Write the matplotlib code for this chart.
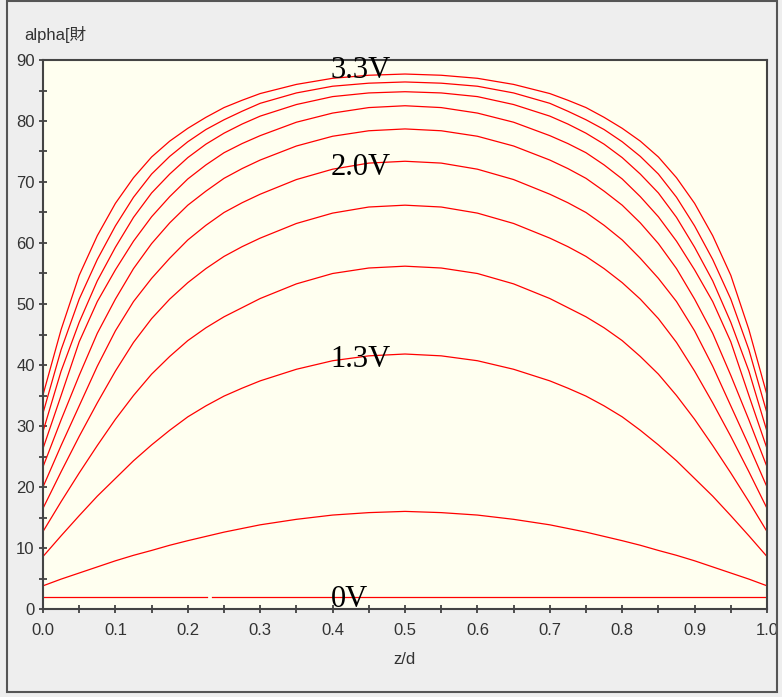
import numpy as np
import matplotlib
matplotlib.use("Agg")
import matplotlib.pyplot as plt
from matplotlib.patches import Rectangle

# ---- data ----
z = [0.0, 0.025, 0.05, 0.075, 0.1, 0.125, 0.15, 0.175, 0.2, 0.225, 0.25, 0.275, 0.3,
     0.35, 0.4, 0.45, 0.5,
     0.55, 0.6, 0.65, 0.7, 0.725, 0.75, 0.775, 0.8, 0.825, 0.85, 0.875, 0.9, 0.925,
     0.95, 0.975, 1.0]

c1 = [3.8, 4.9, 5.9, 6.9, 7.9, 8.8, 9.6, 10.45, 11.2, 11.9, 12.6, 13.2, 13.8, 14.7, 15.4, 15.8, 16.0,
      15.8, 15.4, 14.7, 13.8, 13.2, 12.6, 11.9, 11.2, 10.45, 9.6, 8.8, 7.9, 6.9, 5.9, 4.9, 3.8]
c2 = [8.6, 12.0, 15.3, 18.5, 21.4, 24.3, 26.9, 29.3, 31.5, 33.3, 34.9, 36.2, 37.4, 39.3, 40.7, 41.5, 41.8,
      41.5, 40.7, 39.3, 37.4, 36.2, 34.9, 33.3, 31.5, 29.3, 26.9, 24.3, 21.4, 18.5, 15.3, 12.0, 8.6]
c3 = [12.7, 17.6, 22.3, 26.8, 31.1, 35.0, 38.5, 41.4, 44.0, 46.1, 47.9, 49.4, 50.9, 53.3, 55.0, 55.9, 56.2,
      55.9, 55.0, 53.3, 50.9, 49.4, 47.9, 46.1, 44.0, 41.4, 38.5, 35.0, 31.1, 26.8, 22.3, 17.6, 12.7]
c4 = [16.5, 22.5, 28.3, 33.8, 39.0, 43.7, 47.6, 50.8, 53.5, 55.8, 57.8, 59.4, 60.8, 63.2, 64.9, 65.9, 66.2,
      65.9, 64.9, 63.2, 60.8, 59.4, 57.8, 55.8, 53.5, 50.8, 47.6, 43.7, 39.0, 33.8, 28.3, 22.5, 16.5]
c5 = [20.0, 26.8, 33.3, 39.8, 45.6, 50.4, 54.2, 57.5, 60.5, 62.9, 65.0, 66.6, 68.0, 70.4, 72.1, 73.1, 73.4,
      73.1, 72.1, 70.4, 68.0, 66.6, 65.0, 62.9, 60.5, 57.5, 54.2, 50.4, 45.6, 39.8, 33.3, 26.8, 20.0]
c6 = [23.3, 31.0, 38.3, 45.2, 50.8, 55.8, 59.9, 63.3, 66.2, 68.5, 70.6, 72.2, 73.6, 75.9, 77.5, 78.4, 78.7,
      78.4, 77.5, 75.9, 73.6, 72.2, 70.6, 68.5, 66.2, 63.3, 59.9, 55.8, 50.8, 45.2, 38.3, 31.0, 23.3]
c7 = [26.3, 35.0, 43.8, 50.4, 55.6, 60.3, 64.3, 67.6, 70.5, 72.8, 74.8, 76.3, 77.6, 79.8, 81.3, 82.2, 82.5,
      82.2, 81.3, 79.8, 77.6, 76.3, 74.8, 72.8, 70.5, 67.6, 64.3, 60.3, 55.6, 50.4, 43.8, 35.0, 26.3]
c8 = [29.1, 39.0, 47.0, 53.8, 59.3, 64.2, 68.2, 71.3, 74.0, 76.2, 78.0, 79.5, 80.8, 82.7, 84.0, 84.6, 84.8,
      84.6, 84.0, 82.7, 80.8, 79.5, 78.0, 76.2, 74.0, 71.3, 68.2, 64.2, 59.3, 53.8, 47.0, 39.0, 29.1]
c9 = [32.1, 42.5, 50.8, 57.3, 62.8, 67.5, 71.3, 74.2, 76.6, 78.6, 80.2, 81.6, 82.9, 84.6, 85.7, 86.2, 86.4,
      86.2, 85.7, 84.6, 82.9, 81.6, 80.2, 78.6, 76.6, 74.2, 71.3, 67.5, 62.8, 57.3, 50.8, 42.5, 32.1]
c10 = [35.1, 45.8, 54.7, 61.2, 66.5, 70.7, 74.1, 76.7, 78.8, 80.6, 82.2, 83.4, 84.5, 86.0, 87.0, 87.5, 87.7,
       87.5, 87.0, 86.0, 84.5, 83.4, 82.2, 80.6, 78.8, 76.7, 74.1, 70.7, 66.5, 61.2, 54.7, 45.8, 35.1]
curves = [c1, c2, c3, c4, c5, c6, c7, c8, c9, c10]

# 0V line (with the small gap seen in the reference)
z0 = [0.0, 0.226, 0.23, 0.234, 1.0]
v0 = [2.0, 2.0, np.nan, 2.0, 2.0]

labels = ["3.3V", "2.0V", "1.3V", "0V"]
label_y = [87.0, 71.1, 39.7, 0.4]
label_x = 0.397

xticks = [0.0, 0.1, 0.2, 0.3, 0.4, 0.5, 0.6, 0.7, 0.8, 0.9, 1.0]
yticks = [0, 10, 20, 30, 40, 50, 60, 70, 80, 90]

# ---- figure ----
W, H = 782, 697
fig = plt.figure(figsize=(W / 100, H / 100), dpi=100, facecolor="#eeeeee")
ax = fig.add_axes([43 / W, (H - 609) / H, 724 / W, 549 / H])
ax.set_facecolor("#fffff0")

red = "#ff0000"
ax.plot(z0, v0, color=red, lw=0.9)
for c in curves:
    ax.plot(z, c, color=red, lw=0.9)

for t, y in zip(labels, label_y):
    ax.text(label_x, y, t, fontsize=22, family="Liberation Serif",
            ha="left", va="baseline", color="black")

ax.set_xlim(0, 1)
ax.set_ylim(0, 90)
ax.set_xticks(xticks)
ax.set_xticklabels([f"{v:.1f}" for v in xticks])
ax.set_yticks(yticks)
ax.set_xticks(np.arange(0.05, 1.0, 0.1), minor=True)
ax.set_yticks(np.arange(5, 90, 10), minor=True)

for s in ax.spines.values():
    s.set_color("#444444")
    s.set_linewidth(1.5)

ax.tick_params(which="both", direction="inout", length=6, width=1.2,
               color="#333333", labelcolor="#333333", labelsize=12)
ax.tick_params(axis="y", pad=3)
ax.tick_params(axis="x", pad=7)
for lab in ax.get_xticklabels() + ax.get_yticklabels():
    lab.set_family("Liberation Sans")

fig.text(24 / W, (H - 40) / H, "alpha[財", fontsize=12,
         family=["Liberation Sans", "Noto Sans CJK SC"], color="#333333",
         ha="left", va="baseline")
fig.text(405 / W, 1 - 660 / H, "z/d", fontsize=12, family="Liberation Sans",
         color="#333333", ha="center", va="center")

fig.patches.append(Rectangle((7 / W, 5 / H), 770 / W, 691 / H, transform=fig.transFigure,
                             fill=False, edgecolor="#555555", lw=1.5))

fig.savefig("out.png", dpi=100, facecolor=fig.get_facecolor())
